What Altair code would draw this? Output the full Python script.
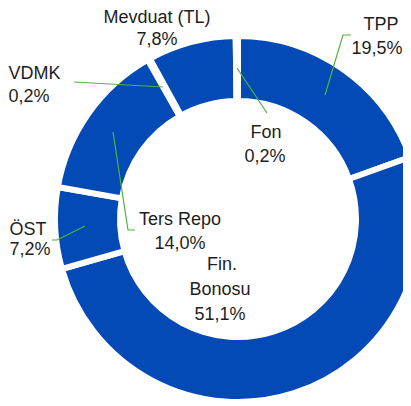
import altair as alt
import pandas as pd

# Slices (clockwise from 12 o'clock)
categories = ["TPP", "Fin. Bonosu", "ÖST", "Ters Repo", "VDMK", "Mevduat (TL)", "Fon"]
shares = [19.5, 51.1, 7.2, 14.0, 0.2, 7.8, 0.2]

# Data label lines (page pixel coordinates of text centers)
label_text = ["TPP", "19,5%", "Fin.", "Bonosu", "51,1%", "ÖST", "7,2%",
              "Ters Repo", "14,0%", "VDMK", "0,2%", "Mevduat (TL)", "7,8%",
              "Fon", "0,2%"]
label_x = [381, 377, 222, 220, 220, 28, 30, 180, 180, 34.5, 29, 157, 157, 266, 265]
label_y = [25, 48.5, 265, 290, 315, 229.5, 249.5, 219.5, 243.5, 73.5, 96.5, 17.5, 40, 133, 157]

# Leader lines
leader_group = ["TPP", "TPP", "TPP", "Fon", "Fon", "VDMK", "VDMK",
                "Repo", "Repo", "Repo", "OST", "OST", "OST"]
leader_x = [351, 343, 325, 237, 267, 74, 163, 113, 128, 135, 52, 57, 85]
leader_y = [35, 35, 95, 68, 113, 82, 87, 132, 230, 230, 240, 240, 226]

slices = pd.DataFrame({"cat": categories, "share": shares, "idx": list(range(len(categories)))})
labels = pd.DataFrame({"t": label_text, "x": label_x, "y": label_y})
leaders = pd.DataFrame({"g": leader_group, "x": leader_x, "y": leader_y,
                        "o": list(range(len(leader_x)))})

xs = alt.Scale(domain=[8, 403], nice=False, zero=False)
ys = alt.Scale(domain=[8, 406], nice=False, zero=False, reverse=True)

donut = alt.Chart(slices).mark_arc(
    outerRadius=183, innerRadius=118, stroke="white", strokeWidth=6
).encode(
    theta=alt.Theta("share:Q", stack=True),
    order=alt.Order("idx:Q", sort="ascending"),
    color=alt.value("#034AB7"),
    x=alt.value(230),
    y=alt.value(211),
)

lines = alt.Chart(leaders).mark_line(color="#4DB53C", strokeWidth=1.2).encode(
    x=alt.X("x:Q", scale=xs, axis=None),
    y=alt.Y("y:Q", scale=ys, axis=None),
    detail="g:N",
    order="o:Q",
)

text = alt.Chart(labels).mark_text(
    font="Liberation Sans", fontSize=18, color="#1e1e1e",
    align="center", baseline="middle"
).encode(
    x=alt.X("x:Q", scale=xs, axis=None),
    y=alt.Y("y:Q", scale=ys, axis=None),
    text="t:N",
)

chart = alt.layer(donut, lines, text).properties(
    width=395, height=398, padding=0, autosize="none"
).configure_view(stroke=None)

chart.save("out.html", embed_options={"renderer": "svg", "actions": False})
